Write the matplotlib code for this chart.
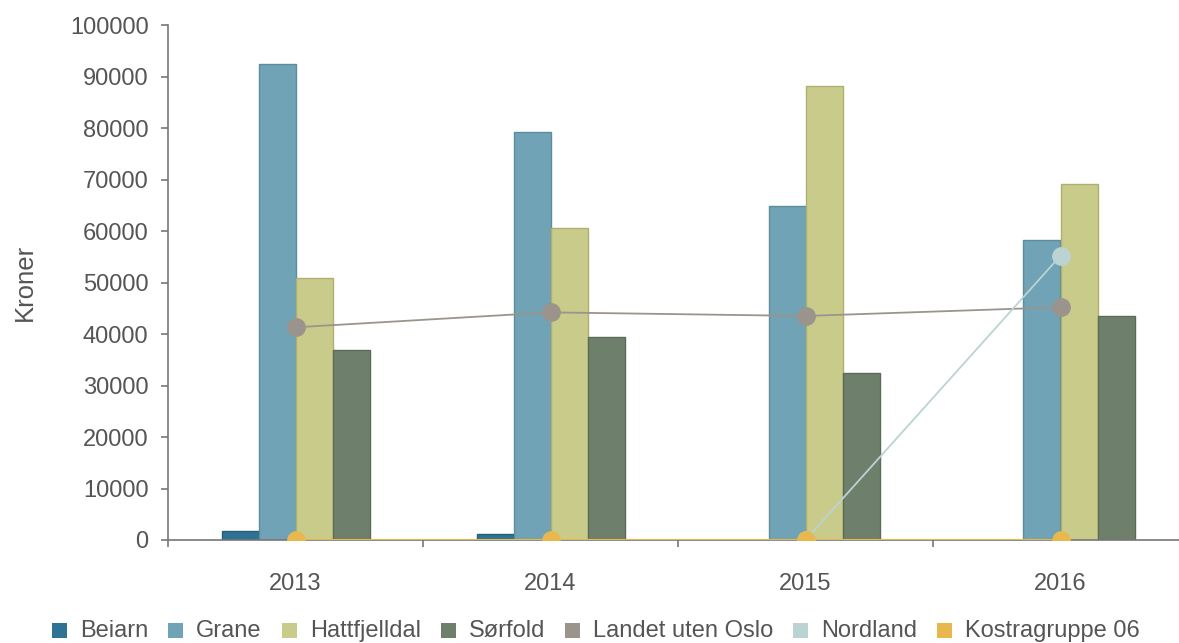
import numpy as np
import matplotlib
matplotlib.use('Agg')
import matplotlib.pyplot as plt
from matplotlib.patches import Rectangle

plt.rcParams['font.family'] = ['Liberation Sans', 'DejaVu Sans']

years = ['2013', '2014', '2015', '2016']

# bar series
beiarn = [1700, 1200, 0, 0]
grane = [92500, 79300, 64800, 58200]
hattfjelldal = [50800, 60600, 88200, 69100]
sorfold = [36800, 39500, 32500, 43400]

# line series
landet = [41300, 44200, 43500, 45200]
nordland = [np.nan, np.nan, 0, 55200]
kostra = [0, 0, 0, 0]

bar_names = ['Beiarn', 'Grane', 'Hattfjelldal', 'Sørfold']
bar_colors = ['#2f7394', '#6fa3b5', '#c9cb8b', '#6e806b']
bar_edges = ['#275f7a', '#5d8c9c', '#aeb06f', '#5b6b58']
line_names = ['Landet uten Oslo', 'Nordland', 'Kostragruppe 06']
line_colors = ['#9b948c', '#bcd3d3', '#e8b84e']

W, H = 1179, 643
fig = plt.figure(figsize=(W / 100, H / 100), dpi=100)
left, bottom, top = 168, 540, 25
ax = fig.add_axes([left / W, 1 - bottom / H, (W - left) / W, (bottom - top) / H])

x = np.arange(len(years))
bw = 37 / 255
for i, (vals, c, ec) in enumerate(zip([beiarn, grane, hattfjelldal, sorfold], bar_colors, bar_edges)):
    ax.bar(x + (i - 1.5) * bw, vals, width=bw, color=c, edgecolor=ec, linewidth=1, zorder=2)

ax.plot(x, landet, color=line_colors[0], linewidth=1.3, marker='o', markersize=12.5, zorder=3)
ax.plot(x, nordland, color=line_colors[1], linewidth=1.3, marker='o', markersize=12.5, zorder=3)
ax.plot(x, kostra, color=line_colors[2], linewidth=2.2, marker='o', markersize=12.5, zorder=4)

ax.set_yticks(np.arange(0, 100001, 10000))
ax.set_xticks(x)
ax.set_xticklabels(years)
ax.set_xticks(np.arange(-0.5, 3.6, 1), minor=True)
ax.set_ylim(0, 100000)
ax.set_xlim(-0.5, (W - left) / 255 - 0.5)
ax.tick_params(axis='x', which='major', length=0, pad=24, labelsize=17, labelcolor='#555555')
ax.tick_params(axis='x', which='minor', length=5, width=1.2, color='#777777')
ax.tick_params(axis='y', length=5, width=1.2, color='#777777', labelsize=17, labelcolor='#555555', pad=9)

for s in ['top', 'right']:
    ax.spines[s].set_visible(False)
for s in ['left', 'bottom']:
    ax.spines[s].set_color('#777777')
    ax.spines[s].set_linewidth(1.2)

ax.set_ylabel('Kroner', fontsize=18.5, color='#555555')
ax.yaxis.set_label_coords((37 - left) / (W - left), 0.5)

# legend drawn by hand so all entries share one baseline
renderer = fig.canvas.get_renderer()
xpos = 52
for name, c in zip(bar_names + line_names, bar_colors + line_colors):
    fig.patches.append(Rectangle((xpos / W, 1 - 638 / H), 15 / W, 15 / H,
                                 transform=fig.transFigure, facecolor=c, edgecolor='none'))
    t = fig.text((xpos + 28) / W, 1 - 637 / H, name, va='baseline', ha='left',
                 fontsize=17, color='#555555')
    xpos = t.get_window_extent(renderer).x1 + 20

fig.savefig('out.png', dpi=100)
